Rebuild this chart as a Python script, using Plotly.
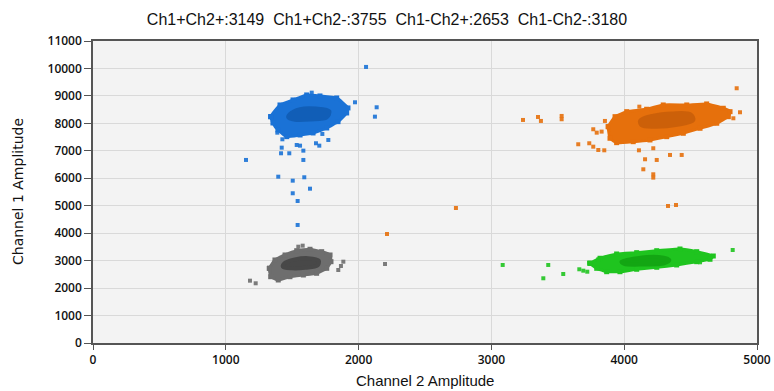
import plotly.graph_objects as go

# ---- Data ----
title_counts = {"Ch1+Ch2+": 3149, "Ch1+Ch2-": 3755, "Ch1-Ch2+": 2653, "Ch1-Ch2-": 3180}

# Cluster outlines (Channel 2, Channel 1) and dense cores
blue_outline_x = [1338, 1408, 1506, 1609, 1709, 1835, 1920, 1910, 1845, 1760, 1657, 1559, 1459, 1393, 1355]
blue_outline_y = [8244, 8670, 8852, 9035, 8998, 8925, 8561, 8379, 8062, 7832, 7650, 7577, 7516, 7760, 8015]
blue_core_x = [1480, 1560, 1680, 1780, 1760, 1640, 1520, 1470]
blue_core_y = [8330, 8520, 8540, 8440, 8220, 8140, 8130, 8220]
blue_out_x = [1647, 1973, 2136, 2123, 1388, 1426, 1534, 1559, 1421, 1416, 1478, 1584, 1584, 1679, 1704, 1727,
              1772, 1395, 1504, 1591, 1634, 1504, 1541, 1541, 1152, 2056]
blue_out_y = [9118, 8768, 8586, 8244, 7661, 7420, 7213, 7188, 7115, 6910, 6910, 7006, 6667, 7275, 7188, 7614,
              7395, 6058, 5913, 6036, 5621, 5454, 5173, 4299, 6667, 10055]

orange_outline_x = [3880, 3931, 4019, 4169, 4294, 4471, 4621, 4746, 4797, 4784, 4697, 4571, 4445, 4320, 4194,
                    4068, 3943, 3893]
orange_outline_y = [7880, 8244, 8426, 8514, 8670, 8670, 8707, 8550, 8426, 8244, 8004, 7821, 7639, 7516, 7395,
                    7333, 7297, 7457]
orange_core_x = [4120, 4220, 4360, 4500, 4520, 4400, 4240, 4130]
orange_core_y = [8100, 8280, 8360, 8330, 8120, 7950, 7880, 7930]
orange_out_x = [4847, 3529, 3529, 3855, 3767, 3793, 3830, 3654, 3737, 3767, 3805, 3850, 4111, 4219, 4157, 4245,
                4345, 4433, 4144, 4219, 4219, 4872, 4822, 4114, 3238, 3351, 3373, 2733, 2214, 4330, 4390]
orange_out_y = [9279, 8270, 8150, 8088, 7785, 7661, 7700, 7239, 7275, 7151, 7031, 7019, 7019, 7093, 6692, 6667,
                6849, 6849, 6327, 6145, 6024, 8404, 8185, 8608, 8124, 8233, 8088, 4918, 3970, 4991, 5027]

gray_outline_x = [1328, 1370, 1446, 1534, 1634, 1722, 1785, 1792, 1760, 1684, 1584, 1483, 1395, 1338]
gray_outline_y = [2721, 3024, 3206, 3362, 3414, 3326, 3206, 2962, 2721, 2539, 2477, 2415, 2295, 2415]
gray_core_x = [1440, 1520, 1620, 1700, 1690, 1600, 1500, 1430]
gray_core_y = [2900, 3040, 3090, 3000, 2820, 2740, 2720, 2780]
gray_out_x = [1546, 1579, 1885, 1867, 1847, 1182, 1225, 2199]
gray_out_y = [3508, 3545, 2962, 2805, 2659, 2270, 2175, 2878]

green_outline_x = [3742, 3818, 3943, 4094, 4245, 4420, 4546, 4671, 4646, 4546, 4395, 4245, 4094, 3968, 3868, 3793]
green_outline_y = [2903, 3086, 3242, 3290, 3362, 3424, 3326, 3169, 3049, 2962, 2842, 2758, 2685, 2597, 2597, 2721]
green_core_x = [3980, 4100, 4260, 4340, 4300, 4150, 4000]
green_core_y = [2960, 3090, 3130, 3020, 2900, 2860, 2880]
green_out_x = [3085, 3428, 3391, 3541, 3662, 3692, 3722, 3737, 3805, 4817, 4571]
green_out_y = [2842, 2842, 2357, 2514, 2685, 2634, 2597, 2925, 3049, 3388, 2940]

x_ticks = [0, 1000, 2000, 3000, 4000, 5000]
y_ticks = list(range(0, 11001, 1000))
x_title = "Channel 2 Amplitude"
y_title = "Channel 1 Amplitude"

# ---- Styles ----
clusters = [
    (blue_outline_x, blue_outline_y, blue_core_x, blue_core_y, blue_out_x, blue_out_y, "#1a72d6", "#0b4f9e"),
    (orange_outline_x, orange_outline_y, orange_core_x, orange_core_y, orange_out_x, orange_out_y, "#e6700c", "#b85408"),
    (gray_outline_x, gray_outline_y, gray_core_x, gray_core_y, gray_out_x, gray_out_y, "#6e6e6e", "#2a2a2a"),
    (green_outline_x, green_outline_y, green_core_x, green_core_y, green_out_x, green_out_y, "#1fc41f", "#0a8f0a"),
]

fig = go.Figure()
for ox, oy, cx, cy, px, py, col, core in clusters:
    fig.add_trace(go.Scatter(x=ox + [ox[0]], y=oy + [oy[0]], mode="lines+markers", fill="toself",
                             fillcolor=col, line=dict(color=col, width=3, shape="spline", smoothing=0.3),
                             marker=dict(symbol="square", size=5, color=col),
                             hoverinfo="skip", showlegend=False))
    fig.add_trace(go.Scatter(x=cx + [cx[0]], y=cy + [cy[0]], mode="lines", fill="toself",
                             fillcolor=core, opacity=0.55,
                             line=dict(color=core, width=4, shape="spline", smoothing=1.0),
                             hoverinfo="skip", showlegend=False))
    fig.add_trace(go.Scatter(x=px, y=py, mode="markers",
                             marker=dict(symbol="square", size=4, color=col, opacity=0.9),
                             hoverinfo="skip", showlegend=False))

title_text = "  ".join(f"{k}:{v}" for k, v in title_counts.items())

tick_font = dict(family="Open Sans, DejaVu Sans, sans-serif", size=12, color="#111", weight=600)
narrow = "Liberation Sans Narrow, Arial Narrow, sans-serif"

fig.update_layout(
    width=774, height=391,
    margin=dict(l=93, r=17, t=41, b=48),
    paper_bgcolor="white", plot_bgcolor="#f3f3f3",
    title=dict(text=title_text, x=0.5, xanchor="center", y=0.95, yanchor="middle",
               font=dict(family=narrow, size=16, color="#111")),
    xaxis=dict(range=[0, 5000], tickvals=x_ticks, ticktext=[str(v) for v in x_ticks],
               showgrid=True, gridcolor="#d9d9d9", gridwidth=1, zeroline=False,
               showline=True, linecolor="#555", linewidth=1.5, mirror=True, automargin=False,
               ticks="outside", ticklen=5, tickcolor="#555", tickfont=tick_font),
    yaxis=dict(range=[0, 11000], tickvals=y_ticks, ticktext=[str(v) for v in y_ticks],
               showgrid=True, gridcolor="#d9d9d9", gridwidth=1, zeroline=False,
               showline=True, linecolor="#555", linewidth=1.5, mirror=True, automargin=False,
               ticks="outside", ticklen=7, tickcolor="#555", tickfont=tick_font),
    annotations=[
        dict(text=x_title, xref="paper", yref="paper", x=0.5, y=0, xanchor="center", yanchor="middle",
             yshift=-37, showarrow=False, font=dict(family=narrow, size=15, color="#111")),
        dict(text=y_title, xref="paper", yref="paper", x=0, y=0.5, xanchor="center", yanchor="middle",
             xshift=-75, textangle=-90, showarrow=False,
             font=dict(family="DejaVu Sans, sans-serif", size=14, color="#111")),
    ],
)

fig.write_html("out.html")
